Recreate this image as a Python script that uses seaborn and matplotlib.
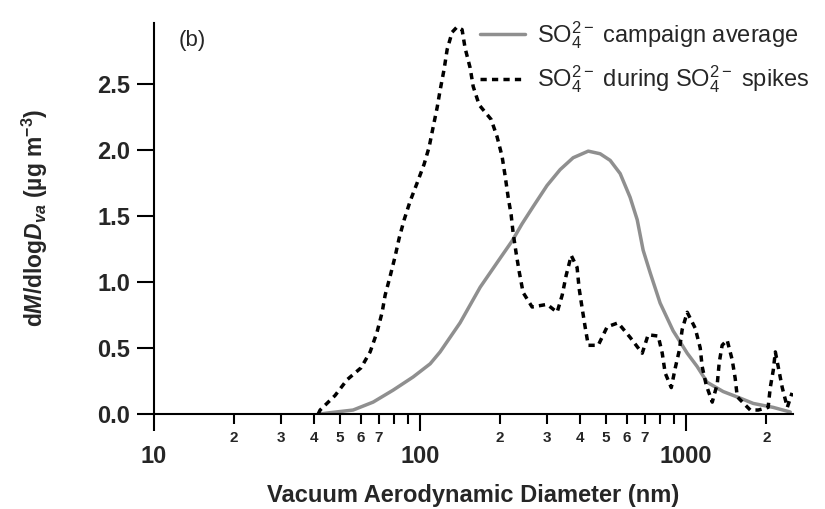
import numpy as np
import pandas as pd
import matplotlib
matplotlib.use("Agg")
import matplotlib.pyplot as plt
import matplotlib.ticker as mticker
import seaborn as sns

# ---- data ----
avg_d = [42.1, 45.9, 56.0, 66.6, 79.1, 94.1, 109.1, 118.9, 141.3, 168.2, 200,
         221.7, 241.7, 266, 300, 335.9, 376, 428.5, 475, 518, 564.8, 615.6, 654.6,
         689, 732, 798, 893, 1009, 1099, 1199, 1377, 1596, 1786, 2124, 2461]
avg_v = [0.0, 0.01, 0.03, 0.09, 0.18, 0.28, 0.38, 0.47, 0.69, 0.96, 1.18,
         1.31, 1.44, 1.57, 1.73, 1.85, 1.94, 1.99, 1.97, 1.92, 1.82, 1.64, 1.47,
         1.24, 1.07, 0.84, 0.63, 0.46, 0.36, 0.24, 0.17, 0.12, 0.08, 0.05, 0.015]

spk_d = [41.4, 42.1, 47.9, 53.2, 60.0, 64.9, 68.9, 72.0, 73.9, 77.1, 80.5, 83.4, 87.1,
         91.7, 97.5, 103.5, 108.1, 111.9, 115.9, 118.9, 123.1, 126.4, 131.9, 137.7,
         143.8, 147.6, 154.2, 158.3, 166.7, 184.9, 194.6, 203.3, 208.8, 214.3, 219.8,
         223.7, 229.5, 235.6, 243.8, 263.6, 300, 327.3, 342, 354, 369.8, 389, 396,
         406.5, 417, 428.5, 467, 504.7, 554.6, 615.6, 683.6, 719.5, 785, 812.8, 833.7,
         879, 910, 941.9, 966, 1009, 1081, 1129, 1148, 1189, 1253, 1309, 1331, 1365,
         1425, 1489, 1528, 1556, 1741, 1866, 2032, 2070, 2124, 2163, 2296, 2399, 2500]
spk_v = [0.0, 0.03, 0.14, 0.26, 0.35, 0.47, 0.62, 0.77, 0.90, 1.04, 1.19, 1.33, 1.47,
         1.61, 1.75, 1.89, 2.02, 2.17, 2.32, 2.45, 2.61, 2.76, 2.89, 2.93,
         2.91, 2.77, 2.62, 2.48, 2.34, 2.23, 2.10, 1.95, 1.80, 1.64, 1.51,
         1.37, 1.22, 1.08, 0.92, 0.81, 0.83, 0.77, 0.90, 1.05, 1.20, 1.11, 0.95,
         0.80, 0.66, 0.52, 0.52, 0.66, 0.69, 0.58, 0.46, 0.60, 0.59, 0.46, 0.31,
         0.20, 0.35, 0.48, 0.64, 0.77, 0.65, 0.50, 0.36, 0.22, 0.09, 0.23, 0.39, 0.52,
         0.56, 0.41, 0.27, 0.13, 0.03, 0.03, 0.05, 0.20, 0.33, 0.47, 0.20, 0.05, 0.16]

label_avg = r"SO$_4^{2-}$ campaign average"
label_spk = r"SO$_4^{2-}$ during SO$_4^{2-}$ spikes"
y_ticks = [0.0, 0.5, 1.0, 1.5, 2.0, 2.5]
x_major = [10, 100, 1000]
x_minor = [20, 30, 40, 50, 60, 70, 80, 90, 200, 300, 400, 500, 600, 700, 800, 900, 2000]

df = pd.concat([
    pd.DataFrame({"d": avg_d, "v": avg_v, "series": label_avg}),
    pd.DataFrame({"d": spk_d, "v": spk_v, "series": label_spk}),
])

sns.set_style("ticks")
plt.rcParams["font.family"] = ["Liberation Sans", "DejaVu Sans"]
plt.rcParams["mathtext.fontset"] = "custom"
plt.rcParams["mathtext.rm"] = "Liberation Sans"
plt.rcParams["mathtext.it"] = "Liberation Sans:italic"
plt.rcParams["mathtext.bf"] = "Liberation Sans:bold"
plt.rcParams["mathtext.bfit"] = "Liberation Sans:italic:bold"

fig = plt.figure(figsize=(8.25, 5.09), dpi=100)
ax = fig.add_axes([154/825, 1-414/509, (793-154)/825, (414-23)/509])

sns.lineplot(data=df, x="d", y="v", hue="series", style="series",
             palette={label_avg: "#8f8f8f", label_spk: "black"},
             dashes={label_avg: "", label_spk: (1.8, 1.5)},
             estimator=None, sort=False, linewidth=2.5, ax=ax)

ax.set_xscale("log")
ax.set_xlim(10, 2520)
ax.set_ylim(0, 2.96)

ax.xaxis.set_major_locator(mticker.FixedLocator(x_major))
ax.xaxis.set_major_formatter(mticker.FixedFormatter([str(v) for v in x_major]))
ax.xaxis.set_minor_locator(mticker.FixedLocator(x_minor))

def minor_fmt(v, pos):
    lead = int(round(v / 10 ** np.floor(np.log10(v) + 1e-9)))
    return str(lead) if 2 <= lead <= 7 else ""

ax.xaxis.set_minor_formatter(mticker.FuncFormatter(minor_fmt))
ax.set_yticks(y_ticks)
ax.set_yticklabels([f"{v:.1f}" for v in y_ticks])

ax.tick_params(axis="x", which="major", direction="out", length=12, width=1.5,
               pad=10, labelsize=17, color="black")
ax.tick_params(axis="x", which="minor", direction="out", length=7, width=1.5,
               pad=5, labelsize=11, color="black")
ax.tick_params(axis="y", which="major", direction="out", length=12, width=1.5,
               pad=5, labelsize=17, color="black")
for lab in ax.get_xticklabels(which="both") + ax.get_yticklabels():
    lab.set_fontweight("bold")

for s in ["top", "right"]:
    ax.spines[s].set_visible(False)
for s in ["left", "bottom"]:
    ax.spines[s].set_linewidth(1.5)
    ax.spines[s].set_color("black")

ax.set_xlabel("Vacuum Aerodynamic Diameter (nm)", fontsize=17, fontweight="bold", labelpad=12)
ax.set_ylabel(r"d$\mathbfit{M}$/dlog$\mathbfit{D}_{\mathbfit{va}}$ (µg m$^{\mathbf{-3}}$)",
              fontsize=16.5, fontweight="bold")
ax.yaxis.set_label_coords(-0.163, 0.502)

ax.text(0.038, 0.954, "(b)", transform=ax.transAxes, fontsize=16,
        ha="left", va="center")

leg = ax.legend(loc="upper left", bbox_to_anchor=(480/825, 1-19/509),
                bbox_transform=fig.transFigure, frameon=False, fontsize=17,
                handlelength=1.9, handletextpad=0.5, labelspacing=0.55,
                borderpad=0, borderaxespad=0)
for line in leg.get_lines():
    line.set_linewidth(2.5)

fig.savefig("out.png", dpi=100)
